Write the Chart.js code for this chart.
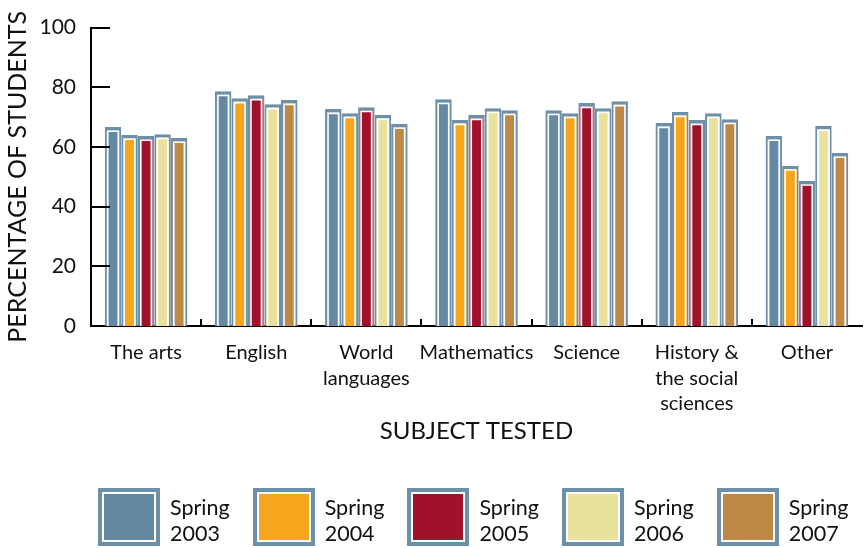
<!DOCTYPE html>
<html>
<head>
<meta charset="utf-8">
<script src="https://cdn.jsdelivr.net/npm/chart.js@4"></script>
<style>
  body { margin: 0; background: #fff; }
  #wrap { position: relative; width: 864px; height: 548px; }
  #legend { position: absolute; left: 0; top: 0; width: 864px; height: 548px; pointer-events: none; }
  .item { position: absolute; top: 488px; }
  .box { position: absolute; left: 0; top: 0; width: 54px; height: 50px; padding: 4px; background: #6d90aa; }
  .box div { width: 50px; height: 46px; border: 2px solid #fff; }
  .txt { position: absolute; left: 72px; top: 6px; font: 21.5px Lato, sans-serif; line-height: 26px; color: #111; white-space: nowrap; }
</style>
</head>
<body>
<div id="wrap">
  <canvas id="chart" width="864" height="548"></canvas>
  <div id="legend"></div>
</div>
<script>
const subjects = [
  'The arts',
  'English',
  ['World', 'languages'],
  'Mathematics',
  'Science',
  ['History &', 'the social', 'sciences'],
  'Other',
];
const years = ['Spring 2003', 'Spring 2004', 'Spring 2005', 'Spring 2006', 'Spring 2007'];

const spring2003 = [66.7, 78.7, 72.7, 76, 72.3, 68, 63.7];
const spring2004 = [64, 76.3, 71.3, 69, 71.3, 71.7, 53.7];
const spring2005 = [63.7, 77.3, 73.3, 70.7, 74.7, 69, 48.7];
const spring2006 = [64.3, 74.3, 70.7, 73, 73, 71.3, 67];
const spring2007 = [63, 75.7, 67.7, 72.3, 75.3, 69.3, 58];

const yTicks = [0, 20, 40, 60, 80, 100];

const fills = ['#6589a3', '#f7a51c', '#a0122c', '#e9e19e', '#bd8945'];
const edge = '#6d90aa';
const font = 'Lato, sans-serif';

const series = [spring2003, spring2004, spring2005, spring2006, spring2007];

// white inner line inside each bar, plus the inward tick marks on both axes
const barTrim = {
  id: 'barTrim',
  afterDatasetsDraw(chart) {
    const ctx = chart.ctx;
    ctx.save();
    ctx.strokeStyle = '#fff';
    ctx.lineWidth = 1.6;
    chart.data.datasets.forEach((ds, i) => {
      chart.getDatasetMeta(i).data.forEach((bar) => {
        const { x, y, base, width } = bar.getProps(['x', 'y', 'base', 'width'], true);
        const l = x - width / 2 + 3;
        const r = x + width / 2 - 3;
        const t = y + 4.3;
        ctx.beginPath();
        ctx.moveTo(l, base);
        ctx.lineTo(l, t);
        ctx.lineTo(r, t);
        ctx.lineTo(r, base);
        ctx.stroke();
      });
    });
    ctx.restore();
  },
  afterDraw(chart) {
    const ctx = chart.ctx;
    const { left, bottom } = chart.chartArea;
    const ys = chart.scales.y;
    const xs = chart.scales.x;
    ctx.save();
    ctx.strokeStyle = '#000';
    ctx.lineWidth = 2;
    yTicks.slice(1).forEach((v) => {
      const py = Math.round(ys.getPixelForValue(v));
      ctx.beginPath();
      ctx.moveTo(left, py);
      ctx.lineTo(left + 19, py);
      ctx.stroke();
    });
    for (let k = 1; k < subjects.length; k++) {
      const px = Math.round((xs.getPixelForValue(k - 1) + xs.getPixelForValue(k)) / 2);
      ctx.beginPath();
      ctx.moveTo(px, bottom);
      ctx.lineTo(px, bottom - 7);
      ctx.stroke();
    }
    ctx.restore();
  },
};

const chart = new Chart(document.getElementById('chart').getContext('2d'), {
  type: 'bar',
  data: {
    labels: subjects,
    datasets: series.map((vals, i) => ({
      label: years[i],
      data: vals,
      backgroundColor: fills[i],
      borderColor: edge,
      borderWidth: { top: 3.5, left: 2, right: 2, bottom: 0 },
      borderSkipped: 'start',
      barPercentage: 1,
      categoryPercentage: 0.75,
    })),
  },
  options: {
    responsive: false,
    animation: false,
    layout: { padding: { top: 26, right: 2, bottom: 102, left: 0 } },
    plugins: {
      legend: { display: false },
      tooltip: { enabled: false },
    },
    scales: {
      x: {
        grid: { display: false, drawTicks: false },
        border: { display: true, color: '#000', width: 2 },
        ticks: {
          color: '#111',
          font: { family: font, size: 20, lineHeight: 1.27 },
          padding: 14,
          maxRotation: 0,
          autoSkip: false,
        },
        title: {
          display: true,
          text: 'SUBJECT TESTED',
          color: '#111',
          font: { family: font, size: 24 },
          padding: 0,
        },
        afterFit(scale) { scale.height = 120; },
      },
      y: {
        min: 0,
        max: 100,
        grid: { display: false, drawTicks: false },
        border: { display: true, color: '#000', width: 2 },
        afterBuildTicks(scale) { scale.ticks = yTicks.map((v) => ({ value: v })); },
        ticks: {
          color: '#111',
          font: { family: font, size: 21 },
          padding: 15,
        },
        title: {
          display: true,
          text: 'PERCENTAGE OF STUDENTS',
          color: '#111',
          font: { family: font, size: 25 },
          padding: { top: 3, bottom: 0 },
        },
        afterFit(scale) { scale.width = 91; },
      },
    },
  },
  plugins: [barTrim],
});

// two-line legend under the chart, built from the dataset list
const legend = document.getElementById('legend');
chart.data.datasets.forEach((ds, i) => {
  const item = document.createElement('div');
  item.className = 'item';
  item.style.left = (98 + i * 154.7) + 'px';
  const parts = ds.label.split(' ');
  item.innerHTML = '<div class="box"><div style="background:' + ds.backgroundColor + '"></div></div>' +
    '<div class="txt">' + parts[0] + '<br>' + parts[1] + '</div>';
  legend.appendChild(item);
});
</script>
</body>
</html>
